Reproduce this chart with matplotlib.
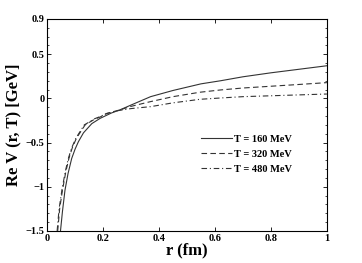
import matplotlib
matplotlib.use("Agg")
import matplotlib.pyplot as plt
from matplotlib.ticker import MultipleLocator, FixedLocator

plt.rcParams['font.family'] = ['Liberation Serif', 'DejaVu Serif']
plt.rcParams['font.weight'] = 'bold'

# Data (r in fm, Re V in GeV)
r_160 = [0.048, 0.055, 0.064, 0.075, 0.088, 0.100, 0.112, 0.130, 0.160, 0.190,
         0.230, 0.260, 0.300, 0.370, 0.450, 0.550, 0.620, 0.700, 0.800, 0.900, 1.000]
v_160 = [-1.50, -1.28, -1.04, -0.85, -0.68, -0.575, -0.49, -0.39, -0.285, -0.225,
         -0.165, -0.13, -0.075, 0.02, 0.09, 0.165, 0.20, 0.245, 0.29, 0.33, 0.37]

r_320 = [0.038, 0.045, 0.055, 0.067, 0.078, 0.090, 0.105, 0.136, 0.170, 0.190,
         0.213, 0.260, 0.300, 0.370, 0.450, 0.546, 0.620, 0.700, 0.800, 0.900, 1.000]
v_320 = [-1.50, -1.25, -1.04, -0.83, -0.68, -0.56, -0.45, -0.30, -0.235, -0.21,
         -0.17, -0.13, -0.09, -0.036, 0.02, 0.07, 0.096, 0.118, 0.138, 0.158, 0.179]

r_480 = [0.036, 0.043, 0.053, 0.065, 0.076, 0.088, 0.103, 0.133, 0.170, 0.190,
         0.210, 0.250, 0.300, 0.370, 0.450, 0.546, 0.620, 0.700, 0.800, 0.900, 1.000]
v_480 = [-1.50, -1.25, -1.04, -0.83, -0.68, -0.56, -0.45, -0.30, -0.23, -0.205,
         -0.175, -0.14, -0.115, -0.093, -0.05, -0.01, 0.005, 0.02, 0.03, 0.04, 0.05]

labels = ['T = 160 MeV', 'T = 320 MeV', 'T = 480 MeV']
x_ticks = [0, 0.2, 0.4, 0.6, 0.8, 1]
x_ticklabels = ['0', '0.2', '0.4', '0.6', '0.8', '1']
y_ticks = [-1.5, -1, -0.5, 0, 0.5, 0.9]
y_ticklabels = ['\u22121.5', '\u22121', '\u22120.5', '0', '0.5', '0.9']

fig = plt.figure(figsize=(3.62, 2.63), dpi=100)
ax = fig.add_axes([0.130, 0.122, 0.773, 0.806])

col = '#333333'
ax.plot(r_160, v_160, '-', color=col, lw=0.8, label=labels[0])
ax.plot(r_320, v_320, '--', color=col, lw=0.8, dashes=(5, 3), label=labels[1])
ax.plot(r_480, v_480, '-.', color=col, lw=0.8, dashes=(5, 2.5, 1, 2.5), label=labels[2])

ax.set_xlim(0, 1)
ax.set_ylim(-1.5, 0.9)
ax.xaxis.set_major_locator(FixedLocator(x_ticks))
ax.set_xticklabels(x_ticklabels)
ax.yaxis.set_major_locator(FixedLocator(y_ticks))
ax.set_yticklabels(y_ticklabels)
ax.yaxis.set_minor_locator(MultipleLocator(0.1))

ax.tick_params(which='both', direction='in', top=True, right=True, labelsize=7.5, pad=2)
ax.tick_params(which='major', length=3, width=0.6)
ax.tick_params(which='minor', length=1.5, width=0.5)
for lab in ax.get_xticklabels() + ax.get_yticklabels():
    lab.set_fontweight('bold')
for s in ax.spines.values():
    s.set_linewidth(0.8)

ax.set_xlabel('r (fm)', fontsize=12, fontweight='bold', labelpad=0)
ax.set_ylabel('Re V (r, T) [GeV]', fontsize=12, fontweight='bold', labelpad=3)

leg = ax.legend(loc='upper left', bbox_to_anchor=(0.535, 0.475), frameon=False,
                prop={'size': 7.5, 'weight': 'bold'}, handlelength=3.0,
                handletextpad=0.2, labelspacing=0.55, borderaxespad=0)

fig.savefig('out.png', dpi=100)
